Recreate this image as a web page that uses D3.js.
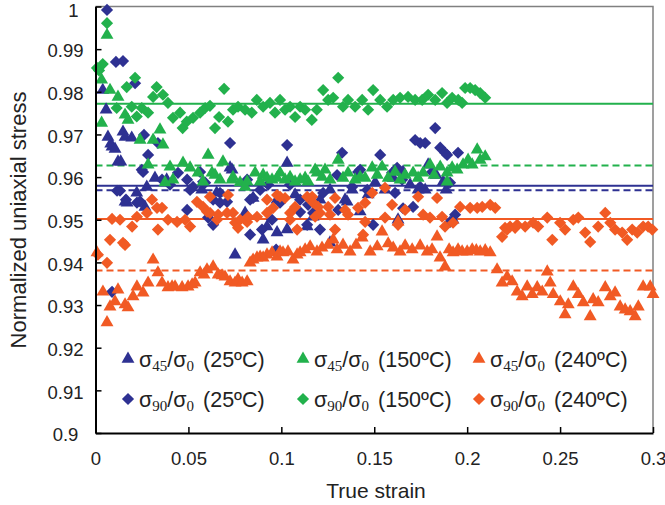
<!DOCTYPE html>
<html>
<head>
<meta charset="utf-8">
<script src="https://cdn.jsdelivr.net/npm/d3@7"></script>
<style>
  body { margin: 0; background: #fff; }
  svg { display: block; font-family: "Liberation Sans", Arial, sans-serif; }
</style>
</head>
<body>
<div id="chart"></div>
<script>
// ---- data: [true strain, normalized stress] ----
var blue45 = [[0.0039,0.9804],[0.0057,0.9758],[0.0067,0.9694],[0.0082,0.9678],[0.0089,0.9671],[0.0105,0.9666],[0.0121,0.9636],[0.0136,0.9636],[0.0148,0.9706],[0.0159,0.9694],[0.0159,0.9542],[0.017,0.954],[0.0195,0.9692],[0.0222,0.9563],[0.0266,0.953],[0.0276,0.9577],[0.032,0.9598],[0.0383,0.9594],[0.0572,0.957],[0.0652,0.9563],[0.0724,0.9622],[0.0735,0.9617],[0.0751,0.9418],[0.0805,0.9516],[0.0848,0.9551],[0.0902,0.9453],[0.0923,0.9484],[0.0977,0.9547],[0.0977,0.947],[0.1031,0.9633],[0.1031,0.9477],[0.1074,0.9559],[0.1139,0.9484],[0.1171,0.9507],[0.1208,0.9547],[0.1262,0.957],[0.1262,0.9446],[0.1343,0.9547],[0.1354,0.9542],[0.1381,0.957],[0.1424,0.9519],[0.1467,0.9559],[0.1505,0.9587],[0.1558,0.957],[0.1602,0.9598],[0.1628,0.95],[0.1655,0.9612],[0.1693,0.9582],[0.1736,0.957],[0.1774,0.957],[0.179,0.9629],[0.1833,0.9605],[0.1871,0.9589],[0.1887,0.957],[0.1924,0.95]];

var blue90 = [[0.0062,0.9992],[0.0089,0.9331],[0.011,0.987],[0.0116,0.9568],[0.0132,0.9568],[0.0148,0.9872],[0.0164,0.9547],[0.0213,0.982],[0.0223,0.954],[0.024,0.9543],[0.0249,0.9617],[0.0256,0.9612],[0.0261,0.9699],[0.0283,0.9652],[0.0336,0.968],[0.0358,0.9594],[0.0401,0.9582],[0.0444,0.961],[0.0493,0.9523],[0.0493,0.9594],[0.0509,0.957],[0.0525,0.9577],[0.0563,0.9612],[0.0579,0.9589],[0.059,0.9587],[0.0606,0.9505],[0.0633,0.9547],[0.0633,0.9488],[0.067,0.9563],[0.067,0.954],[0.0708,0.9542],[0.0724,0.968],[0.0816,0.9594],[0.0832,0.9547],[0.0832,0.9465],[0.0848,0.9551],[0.0886,0.957],[0.0896,0.9477],[0.0929,0.9582],[0.095,0.95],[0.0972,0.943],[0.0993,0.954],[0.1031,0.9675],[0.1047,0.9582],[0.1101,0.9518],[0.1101,0.9547],[0.1139,0.9488],[0.1144,0.9535],[0.1171,0.9516],[0.1208,0.9477],[0.1225,0.9563],[0.13,0.9605],[0.1306,0.9523],[0.1327,0.9657],[0.1381,0.9577],[0.1413,0.9612],[0.1424,0.9617],[0.1462,0.957],[0.1494,0.9488],[0.1532,0.9652],[0.1596,0.961],[0.1612,0.9563],[0.1623,0.9622],[0.165,0.9594],[0.1655,0.9527],[0.1709,0.953],[0.172,0.9687],[0.1747,0.968],[0.1747,0.9577],[0.1774,0.968],[0.1811,0.9612],[0.1828,0.9715],[0.1855,0.9669],[0.1881,0.9657],[0.1892,0.9652],[0.1908,0.9587],[0.1908,0.9495],[0.1935,0.9512],[0.1951,0.9657]];

var green45 = [[0.0033,0.9727],[0.0033,0.9828],[0.0062,0.9933],[0.0078,0.9804],[0.0121,0.9788],[0.0159,0.9746],[0.0175,0.9734],[0.024,0.9687],[0.0283,0.9629],[0.031,0.9687],[0.0347,0.9711],[0.0363,0.9676],[0.0374,0.9587],[0.0401,0.9624],[0.0417,0.9594],[0.0471,0.9633],[0.0509,0.9622],[0.0552,0.961],[0.0579,0.9589],[0.0606,0.9652],[0.0627,0.961],[0.0643,0.9605],[0.067,0.9594],[0.0686,0.9636],[0.0735,0.9594],[0.074,0.96],[0.0778,0.9587],[0.0805,0.9577],[0.0816,0.9589],[0.0859,0.961],[0.0886,0.9589],[0.0902,0.9605],[0.0923,0.9598],[0.095,0.9594],[0.0977,0.9598],[0.0993,0.961],[0.102,0.9594],[0.1047,0.96],[0.1074,0.9589],[0.1101,0.9594],[0.1128,0.9598],[0.1144,0.9589],[0.1182,0.9617],[0.1192,0.961],[0.1219,0.96],[0.1235,0.9617],[0.1262,0.9594],[0.1306,0.964],[0.1332,0.9598],[0.1359,0.961],[0.1397,0.9594],[0.1424,0.96],[0.1451,0.9598],[0.1489,0.9622],[0.1516,0.9605],[0.1542,0.9624],[0.1575,0.9598],[0.1612,0.9612],[0.1639,0.9594],[0.1666,0.9605],[0.1709,0.961],[0.1736,0.9598],[0.1763,0.961],[0.18,0.9629],[0.1822,0.9605],[0.1855,0.9624],[0.1892,0.961],[0.1892,0.9589],[0.1919,0.9622],[0.1946,0.9617],[0.1978,0.9629],[0.2005,0.964],[0.2027,0.9629],[0.2054,0.9664],[0.207,0.964],[0.2097,0.9648]];

var green90 = [[0.0008,0.9856],[0.0019,0.985],[0.0039,0.9865],[0.0062,0.9961],[0.0114,0.9762],[0.0168,0.9811],[0.0195,0.9765],[0.0213,0.9833],[0.0222,0.9742],[0.0249,0.9762],[0.0283,0.9751],[0.031,0.9788],[0.0329,0.9811],[0.0363,0.9793],[0.039,0.9774],[0.0417,0.9739],[0.0455,0.9751],[0.0469,0.9715],[0.0491,0.973],[0.0525,0.9739],[0.0563,0.9751],[0.059,0.9762],[0.0616,0.9767],[0.0643,0.9715],[0.0665,0.9741],[0.0692,0.9807],[0.0713,0.973],[0.074,0.9758],[0.0767,0.9765],[0.0805,0.9758],[0.0841,0.9751],[0.0868,0.9781],[0.0902,0.9765],[0.0939,0.9774],[0.0966,0.9751],[0.0993,0.9781],[0.102,0.9758],[0.1047,0.9765],[0.1074,0.9741],[0.1101,0.9765],[0.1128,0.9758],[0.1164,0.9734],[0.1191,0.9758],[0.1225,0.9804],[0.1252,0.9781],[0.1279,0.9786],[0.1306,0.9833],[0.1332,0.9765],[0.1359,0.9781],[0.1397,0.9765],[0.1435,0.9781],[0.1467,0.9758],[0.1494,0.9804],[0.1532,0.9781],[0.1569,0.9765],[0.1602,0.9781],[0.1639,0.9786],[0.1682,0.9788],[0.172,0.9781],[0.1758,0.9781],[0.179,0.9793],[0.1828,0.9781],[0.1865,0.9797],[0.1892,0.9774],[0.1919,0.9786],[0.1952,0.9781],[0.1973,0.9774],[0.1989,0.9809],[0.2016,0.9809],[0.2043,0.9804],[0.207,0.9797],[0.2097,0.9786]];

var orange45 = [[0.0008,0.9423],[0.004,0.9331],[0.0062,0.9259],[0.0078,0.9296],[0.0105,0.9308],[0.0121,0.9336],[0.0159,0.9301],[0.0175,0.9294],[0.0202,0.932],[0.0223,0.9343],[0.0256,0.9329],[0.0283,0.9352],[0.031,0.9406],[0.0336,0.9376],[0.0358,0.9352],[0.039,0.9341],[0.0412,0.9343],[0.0428,0.9343],[0.0466,0.9341],[0.0498,0.9343],[0.052,0.9348],[0.0536,0.9352],[0.0563,0.9376],[0.0584,0.9371],[0.06,0.9383],[0.0633,0.939],[0.066,0.9371],[0.0681,0.9369],[0.0697,0.9366],[0.0724,0.9355],[0.0751,0.9352],[0.0767,0.936],[0.0789,0.9352],[0.0816,0.9355],[0.0832,0.9399],[0.0848,0.9406],[0.0869,0.9411],[0.0886,0.9413],[0.0902,0.9411],[0.0923,0.9418],[0.095,0.9423],[0.0977,0.9413],[0.0993,0.9425],[0.1009,0.9423],[0.1036,0.9425],[0.1063,0.9406],[0.1085,0.9418],[0.1101,0.9423],[0.1128,0.943],[0.1155,0.9437],[0.1192,0.9425],[0.1219,0.9434],[0.1252,0.9441],[0.1279,0.9453],[0.13,0.943],[0.1332,0.9441],[0.137,0.9425],[0.1402,0.9441],[0.1435,0.9458],[0.1478,0.9425],[0.1516,0.9437],[0.1542,0.9472],[0.1575,0.9444],[0.1602,0.9434],[0.1628,0.9495],[0.1639,0.9425],[0.1666,0.9439],[0.1704,0.943],[0.1747,0.9439],[0.1785,0.9425],[0.1811,0.943],[0.1838,0.946],[0.1854,0.9411],[0.1881,0.939],[0.1903,0.943],[0.1924,0.9423],[0.1951,0.943],[0.1973,0.9425],[0.2,0.9425],[0.2027,0.943],[0.2049,0.9428],[0.207,0.9425],[0.2097,0.9428],[0.2124,0.9423],[0.2161,0.9383],[0.2188,0.9352],[0.2215,0.9366],[0.2242,0.9355],[0.2269,0.9331],[0.2296,0.932],[0.2323,0.9343],[0.235,0.9325],[0.2377,0.9341],[0.2404,0.9331],[0.2431,0.9378],[0.2447,0.9352],[0.2463,0.9325],[0.2501,0.9308],[0.2527,0.9278],[0.2544,0.9301],[0.2571,0.9343],[0.2598,0.9325],[0.2625,0.9306],[0.2662,0.9273],[0.2678,0.9313],[0.2705,0.9306],[0.2743,0.9341],[0.277,0.932],[0.2796,0.9329],[0.2823,0.9296],[0.285,0.9289],[0.2877,0.9285],[0.2904,0.9273],[0.2921,0.9296],[0.2947,0.9343],[0.2985,0.9343],[0.3,0.9325]];

var orange90 = [[0.0013,0.9418],[0.0062,0.9399],[0.0078,0.9453],[0.0089,0.9502],[0.0132,0.95],[0.0148,0.9446],[0.0159,0.9441],[0.0197,0.9484],[0.0223,0.9507],[0.0277,0.9516],[0.0304,0.9547],[0.0331,0.9528],[0.0336,0.9477],[0.0358,0.9528],[0.039,0.95],[0.0439,0.9495],[0.0482,0.95],[0.0509,0.9484],[0.0546,0.9542],[0.0579,0.953],[0.06,0.9519],[0.0616,0.9554],[0.0616,0.9516],[0.0654,0.95],[0.066,0.9512],[0.0708,0.9516],[0.0713,0.9558],[0.074,0.9516],[0.0751,0.9493],[0.0767,0.9481],[0.0778,0.95],[0.0816,0.9495],[0.0821,0.9507],[0.0869,0.9507],[0.0923,0.9547],[0.0923,0.9516],[0.0956,0.9528],[0.0977,0.9558],[0.0993,0.9554],[0.102,0.9551],[0.1047,0.95],[0.1047,0.9516],[0.1074,0.953],[0.1085,0.9477],[0.1139,0.9554],[0.1166,0.9554],[0.1171,0.954],[0.1182,0.9507],[0.1198,0.953],[0.1208,0.9516],[0.1252,0.953],[0.1262,0.9512],[0.1289,0.9551],[0.1289,0.9477],[0.1343,0.9523],[0.1359,0.9512],[0.1413,0.9528],[0.144,0.9465],[0.1451,0.954],[0.1451,0.9495],[0.1489,0.9563],[0.1558,0.9575],[0.1558,0.9505],[0.1596,0.9535],[0.1628,0.9488],[0.1666,0.9523],[0.1736,0.9554],[0.1763,0.9512],[0.18,0.9505],[0.1838,0.9551],[0.1865,0.9507],[0.1881,0.9484],[0.1924,0.9493],[0.1962,0.953],[0.2016,0.9528],[0.2054,0.9528],[0.2081,0.953],[0.2124,0.9535],[0.2151,0.9528],[0.2188,0.946],[0.2204,0.9481],[0.2215,0.9477],[0.2231,0.9484],[0.2258,0.9481],[0.2269,0.9488],[0.2312,0.9484],[0.2355,0.9493],[0.2382,0.9484],[0.2431,0.9505],[0.2458,0.9453],[0.25,0.9493],[0.2527,0.9477],[0.2571,0.95],[0.2598,0.9505],[0.2635,0.947],[0.2662,0.9448],[0.2705,0.9484],[0.2743,0.9516],[0.277,0.9493],[0.2796,0.9477],[0.2834,0.947],[0.2861,0.9453],[0.2888,0.9477],[0.2915,0.947],[0.2947,0.9484],[0.2974,0.9484],[0.2996,0.9477]];

// mean levels (solid = sigma45, dashed = sigma90)
var meanLevels = [
  {v: 0.9772, color: "green", dashed: false},
  {v: 0.9627, color: "green", dashed: true},
  {v: 0.9580, color: "blue", dashed: false},
  {v: 0.9569, color: "blue", dashed: true},
  {v: 0.9502, color: "orange", dashed: false},
  {v: 0.9381, color: "orange", dashed: true}
];

var xTicks = [0, 0.05, 0.1, 0.15, 0.2, 0.25, 0.3];
var yTicks = [0.9, 0.91, 0.92, 0.93, 0.94, 0.95, 0.96, 0.97, 0.98, 0.99, 1];
var angles = ["45", "90"];
var temps = ["25", "150", "240"];

var colors = {blue: "#2e3192", green: "#22b14c", orange: "#f15a24"};

var series = [
  {data: blue45, color: "blue", shape: "tri"},
  {data: blue90, color: "blue", shape: "dia"},
  {data: green45, color: "green", shape: "tri"},
  {data: green90, color: "green", shape: "dia"},
  {data: orange45, color: "orange", shape: "tri"},
  {data: orange90, color: "orange", shape: "dia"}
];

var W = 665, H = 505;
var margin = {top: 6.5, right: 12, bottom: 72, left: 95.5};
var width = W - margin.left - margin.right;
var height = H - margin.top - margin.bottom;

var svg = d3.select("#chart").append("svg").attr("width", W).attr("height", H);
var chart = svg.append("g").attr("transform", "translate(" + margin.left + "," + margin.top + ")");

var x = d3.scaleLinear().domain([0, 0.3]).range([0, width]);
var y = d3.scaleLinear().domain([0.9, 1]).range([height, 0]);

// top and right frame
chart.append("path")
  .attr("d", "M0,0H" + width + "V" + height)
  .attr("fill", "none").attr("stroke", "#808080").attr("stroke-width", 1.5);

// mean lines
chart.selectAll("line.mean").data(meanLevels).enter().append("line")
  .attr("class", "mean")
  .attr("x1", 0).attr("x2", width)
  .attr("y1", function(d) { return y(d.v); })
  .attr("y2", function(d) { return y(d.v); })
  .attr("stroke", function(d) { return colors[d.color]; })
  .attr("stroke-width", 2)
  .attr("stroke-dasharray", function(d) { return d.dashed ? "7,4" : null; });

var tri = d3.symbol().type(d3.symbolTriangle).size(72);
var dia = d3.symbol().type(d3.symbolSquare).size(74);

series.forEach(function(s) {
  chart.append("g").selectAll("path").data(s.data).enter().append("path")
    .attr("d", s.shape === "tri" ? tri : dia)
    .attr("transform", function(d) {
      return "translate(" + x(d[0]) + "," + y(d[1]) + ")" + (s.shape === "dia" ? " rotate(45)" : "");
    })
    .attr("fill", colors[s.color]);
});

// axes
var yAxis = d3.axisLeft(y).tickValues(yTicks).tickSize(-6).tickSizeOuter(0).tickPadding(9)
  .tickFormat(d3.format(".2~f"));
var gy = chart.append("g").call(yAxis);
gy.select(".domain").attr("stroke", "#000").attr("stroke-width", 2);
gy.selectAll(".tick line").attr("stroke", "#000").attr("stroke-width", 1.5);
gy.selectAll(".tick text").attr("font-size", 18.5).attr("fill", "#222")
  .attr("text-anchor", "middle")
  .attr("dy", function(d) { return d === 1 ? "0.55em" : "0.42em"; })
  .attr("x", function(d) { return d === 1 ? -22 : -30; });

var xAxis = d3.axisBottom(x).tickValues(xTicks).tickSize(-6).tickSizeOuter(0).tickPadding(19)
  .tickFormat(d3.format("~g"));
var gx = chart.append("g").attr("transform", "translate(0," + height + ")").call(xAxis);
gx.select(".domain").attr("stroke", "#000").attr("stroke-width", 2);
gx.selectAll(".tick line").attr("stroke", "#000").attr("stroke-width", 1.5);
gx.selectAll(".tick text").attr("font-size", 18.5).attr("fill", "#222");

// axis titles
svg.append("text")
  .attr("x", 376).attr("y", 498)
  .attr("text-anchor", "middle").attr("font-size", 21).attr("fill", "#222")
  .text("True strain");
svg.append("text")
  .attr("transform", "translate(26,220) rotate(-90)")
  .attr("text-anchor", "middle").attr("font-size", 22).attr("fill", "#222")
  .text("Normalized uniaxial stress");

// legend
var legX = [128, 303, 479];
var legY = [359, 399];
var legendColors = ["blue", "green", "orange"];
angles.forEach(function(a, r) {
  temps.forEach(function(t, c) {
    var g = svg.append("g").attr("transform", "translate(" + legX[c] + "," + legY[r] + ")");
    g.append("path")
      .attr("d", r === 0 ? tri : dia)
      .attr("transform", r === 0 ? null : "rotate(45)")
      .attr("fill", colors[legendColors[c]]);
    var txt = g.append("text").attr("x", 11).attr("y", 8)
      .attr("font-size", 21.5).attr("fill", "#222");
    txt.append("tspan").text("σ");
    txt.append("tspan").attr("font-family", "Liberation Serif").attr("font-size", 15).attr("dy", 4).text(a);
    txt.append("tspan").attr("dy", -4).text("/σ");
    txt.append("tspan").attr("font-family", "Liberation Serif").attr("font-size", 15).attr("dy", 4).text("0");
    txt.append("tspan").attr("dy", -4).attr("dx", 9).text("(" + t + "ºC)");
  });
});
</script>
</body>
</html>
